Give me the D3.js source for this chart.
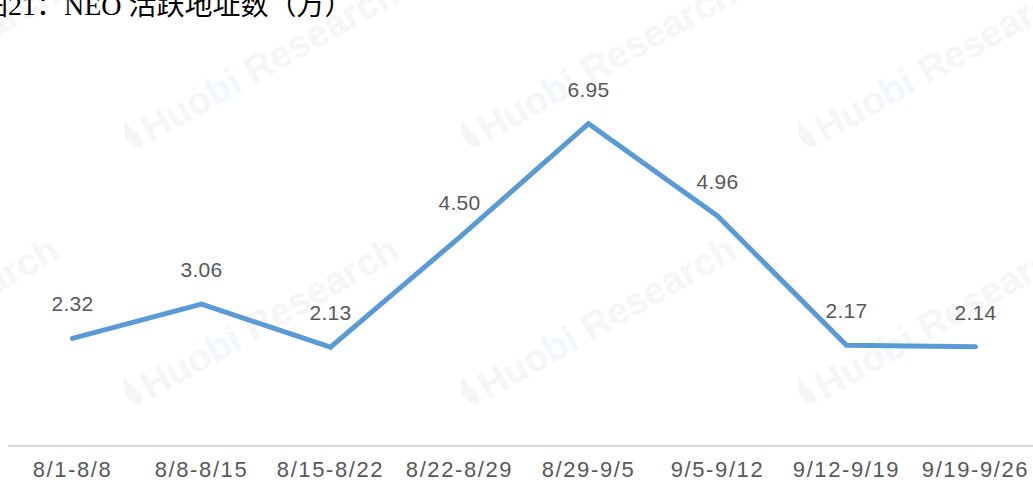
<!DOCTYPE html>
<html><head><meta charset="utf-8">
<script src="https://cdn.jsdelivr.net/npm/d3@7"></script>
<style>html,body{margin:0;padding:0;background:#fff;overflow:hidden}</style>
</head><body>
<svg id="c" width="1033" height="488"></svg>
<script>
const categories = ["8/1-8/8","8/8-8/15","8/15-8/22","8/22-8/29","8/29-9/5","9/5-9/12","9/12-9/19","9/19-9/26"];
const values = [2.32, 3.06, 2.13, 4.50, 6.95, 4.96, 2.17, 2.14];
const title = "图21：NEO 活跃地址数（万）";
const watermarkText = ["Huo", "bi", " Research"];

const svg = d3.select("#c");
const x = d3.scaleBand().domain(categories).range([8, 1040]);
const y = d3.scaleLinear().domain([0, 8]).range([446, 75]);

// watermarks
const wmPos = [];
[-207,133,470,807].forEach(sx => [153,410].forEach(sy => wmPos.push([sx, sy])));
wmPos.forEach(([sx, sy]) => {
  const g = svg.append("g").attr("transform", `translate(${sx},${sy}) rotate(-29.6)`);
  g.append("path").attr("d","M8,-2 C-3,-13 2,-25 10,-34 C7,-23 16,-17 14,-7 C13,-1 10,1 8,-2 Z").attr("fill","#f4f5f6");
  const t = g.append("text").attr("x", 20).attr("y", 0)
    .attr("font-family","Liberation Sans, Arial, sans-serif").attr("font-size", 38).attr("font-weight","bold");
  t.append("tspan").text(watermarkText[0]).attr("fill","#f6f6f6");
  t.append("tspan").text(watermarkText[1]).attr("fill","#f1f7fc");
  t.append("tspan").text(watermarkText[2]).attr("fill","#f6f6f6");
});

// title
svg.append("text").attr("x", -20).attr("y", 15)
  .attr("font-family","Liberation Serif, Times New Roman, Noto Sans CJK SC, serif")
  .attr("font-size", 28).attr("fill","#000").text(title);

// axis
const axis = svg.append("g").attr("transform", `translate(0,${y(0)})`)
  .call(d3.axisBottom(x).tickSize(0).tickPadding(15));
axis.select(".domain").attr("stroke","#d9d9d9").attr("stroke-width",2).attr("d","M8,0H1033");
axis.selectAll("text").attr("font-family","Liberation Sans, Arial, sans-serif")
  .attr("font-size", 22).attr("letter-spacing", 1.6).attr("fill","#595959").attr("dy","0.71em");

const cx = d => x(d) + x.bandwidth()/2;
const line = d3.line().x((d,i) => cx(categories[i])).y(d => y(d));
svg.append("path").datum(values).attr("d", line).attr("fill","none")
  .attr("stroke","#5b9bd5").attr("stroke-width",5).attr("stroke-linecap","round").attr("stroke-linejoin","miter");

svg.selectAll(".lbl").data(values).enter().append("text")
  .attr("x",(d,i)=>cx(categories[i])).attr("y", d => y(d) - 27)
  .attr("text-anchor","middle").attr("font-family","Liberation Sans, Arial, sans-serif")
  .attr("font-size",21).attr("letter-spacing",0.3).attr("fill","#595959").text(d => d.toFixed(2));
</script>
</body></html>
